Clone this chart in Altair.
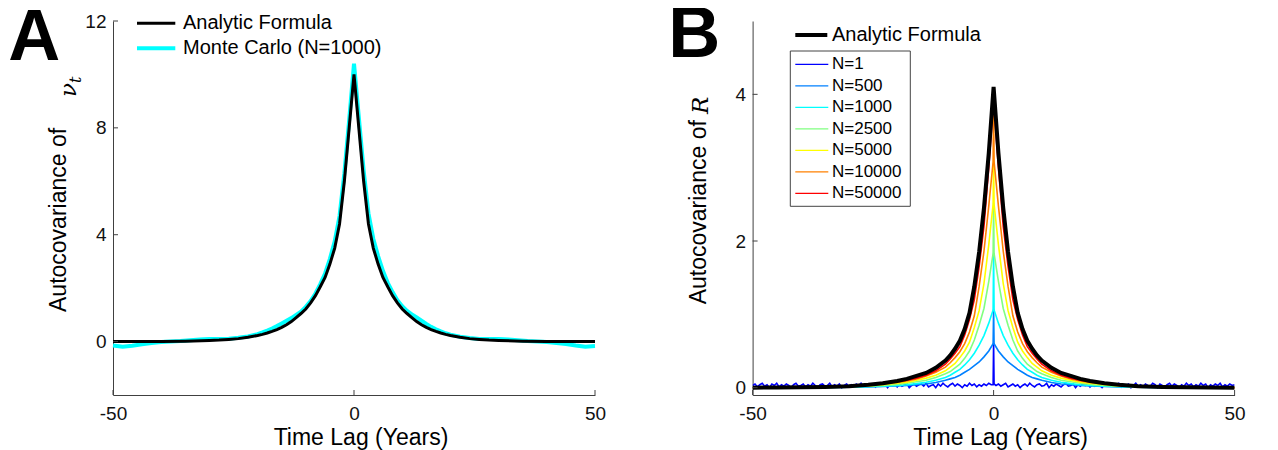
import altair as alt
import pandas as pd

# ---------------- Panel A data ----------------
lag_a_half = [0, 1, 2, 3, 4, 5, 6, 7, 8, 9, 10, 11, 12, 13, 14, 15, 16, 17, 18, 19, 20,
              22, 24, 26, 28, 30, 35, 40, 45, 50]
analytic_a_half = [10.0, 8.0, 6.0, 4.4, 3.5, 2.9, 2.4, 2.05, 1.72, 1.45, 1.22, 1.05, 0.9, 0.75,
                   0.63, 0.53, 0.45, 0.38, 0.32, 0.27, 0.23, 0.16, 0.11, 0.08, 0.055, 0.04,
                   0.015, 0.006, 0.002, 0.0]

lag_mc = [-50, -48, -46, -44, -42, -40, -38, -36, -34, -32, -30, -28, -26, -24, -22, -20,
          -19, -18, -17, -16, -15, -14, -13, -12, -11, -10, -9, -8, -7, -6, -5, -4, -3, -2, -1,
          0, 1, 2, 3, 4, 5, 6, 7, 8, 9, 10, 11, 12, 13, 14, 15, 16, 17, 18, 19, 20,
          22, 24, 26, 28, 30, 32, 34, 36, 38, 40, 42, 44, 46, 48, 50]
mc_vals = [-0.15, -0.19, -0.16, -0.10, -0.05, -0.02, 0.0, 0.02, 0.05, 0.08, 0.10, 0.10, 0.11,
           0.14, 0.19, 0.28, 0.34, 0.41, 0.49, 0.58, 0.68, 0.78, 0.88, 1.0, 1.12, 1.3, 1.52,
           1.8, 2.15, 2.55, 3.1, 3.75, 4.7, 6.3, 8.3,
           10.4, 8.4, 6.4, 4.8, 3.85, 3.2, 2.65, 2.2, 1.85, 1.55, 1.32, 1.15, 1.02, 0.9, 0.78,
           0.66, 0.55, 0.46, 0.38, 0.31, 0.26, 0.18, 0.13, 0.10, 0.10, 0.10, 0.08, 0.05, 0.02,
           0.0, -0.02, -0.05, -0.09, -0.15, -0.19, -0.17]

a_series = ["Analytic Formula", "Monte Carlo (N=1000)"]
a_colors = ["#000000", "#00ffff"]
a_widths = [3, 4]

# ---------------- Panel B data ----------------
lag_b_half = [0, 1, 2, 3, 4, 5, 6, 7, 8, 9, 10, 12, 14, 16, 18, 20, 23, 26, 30, 35, 40, 45, 50]
analytic_b_half = [4.1, 3.2, 2.45, 1.85, 1.38, 1.02, 0.8, 0.64, 0.53, 0.44, 0.37, 0.27, 0.2,
                   0.16, 0.12, 0.09, 0.06, 0.04, 0.02, 0.01, 0.005, 0.002, 0.0]

# colored curves: value at lag 0 (spike), at lag 0.1, then at lags 1..50
lag_n_half = [0, 0.1, 1, 2, 3, 4, 5, 6, 7, 8, 9, 10, 12, 14, 16, 18, 20, 23, 26, 30, 35, 40,
              45, 50]
n50000_half = [4.0, 3.82, 3.0, 2.2, 1.65, 1.2, 0.93, 0.72, 0.56, 0.47, 0.39, 0.32, 0.23, 0.17,
               0.13, 0.1, 0.08, 0.055, 0.035, 0.02, 0.01, 0.005, 0.002, 0.0]
n10000_half = [3.84, 3.08, 2.48, 1.86, 1.38, 0.98, 0.76, 0.6, 0.49, 0.41, 0.34, 0.28, 0.21,
               0.16, 0.12, 0.09, 0.07, 0.05, 0.03, 0.018, 0.01, 0.004, 0.002, 0.0]
n5000_half = [3.1, 2.5, 1.95, 1.42, 1.05, 0.82, 0.62, 0.5, 0.41, 0.33, 0.28, 0.23, 0.17, 0.13,
              0.1, 0.075, 0.06, 0.04, 0.025, 0.015, 0.008, 0.004, 0.002, 0.0]
n2500_half = [2.52, 1.83, 1.45, 1.08, 0.85, 0.65, 0.5, 0.4, 0.32, 0.27, 0.22, 0.19, 0.14, 0.1,
              0.08, 0.06, 0.045, 0.03, 0.02, 0.012, 0.006, 0.003, 0.001, 0.0]
n1000_half = [1.84, 1.06, 0.88, 0.71, 0.58, 0.47, 0.38, 0.31, 0.25, 0.21, 0.17, 0.14, 0.1,
              0.075, 0.055, 0.04, 0.03, 0.02, 0.013, 0.008, 0.004, 0.002, 0.001, 0.0]
n500_half = [1.07, 0.6, 0.5, 0.42, 0.35, 0.3, 0.25, 0.21, 0.17, 0.14, 0.12, 0.1, 0.07, 0.05,
             0.04, 0.03, 0.022, 0.015, 0.01, 0.006, 0.003, 0.002, 0.001, 0.0]

# N=1 (noisy), sampled every half year; values in hundredths
lag_n1 = [k * 0.5 for k in range(-100, 0)] + [-0.1, 0, 0.1] + [k * 0.5 for k in range(1, 101)]
n1_left_pct = [3, 5, 1, 4, 6, 2, 4, 0, 5, 3, 6, 1, 4, 2, 5, 3, 0, 4, 6, 2,
               3, 5, 1, 4, 2, 6, 3, 0, 4, 5, 2, 3, 6, 1, 4, 2, 5, 0, 3, 5,
               2, 4, 1, 5, 3, 6, 2, 4, 3, 5, 4, 1, 6, 3, 2, 5, 0, 4, 3, 6,
               1, 5, 2, 4, 6, 0, 3, 5, 2, 4, 5, 2, 6, 1, 3, 4, 0, 5, 2, 6,
               3, 1, 4, 6, 2, 5, 3, 0, 4, 2, 6, 3, 5, 1, 4, 2, 5, 3, 6, 4]
n1_center_pct = [4, 61, 5]
n1_right_pct = [3, 5, 2, 4, 6, 1, 3, 5, 2, 4, 0, 3, 5, 2, 6, 3, 1, 4, 5, 2,
                3, 6, 0, 4, 2, 5, 3, 1, 4, 6, 2, 3, 5, 0, 4, 2, 5, 3, 6, 1,
                4, 2, 5, 3, 0, 4, 6, 2, 3, 5, 2, 6, 1, 4, 3, 5, 0, 3, 6, 2,
                4, 1, 5, 3, 2, 6, 4, 0, 5, 3, 1, 4, 6, 2, 5, 3, 0, 4, 2, 6,
                3, 5, 1, 4, 2, 6, 3, 5, 0, 4, 2, 5, 3, 6, 1, 4, 2, 5, 3, 4]

n_labels = ["N=1", "N=500", "N=1000", "N=2500", "N=5000", "N=10000", "N=50000"]
n_colors = ["#0000ff", "#0080ff", "#00ffff", "#80ff80", "#ffff00", "#ff8000", "#ff0000"]

x_ticks = [-50, 0, 50]
ya_ticks = [0, 4, 8, 12]
yb_ticks = [0, 2, 4]

FONT = "Liberation Sans"
AX = "#404040"
W, H = 482, 374


def mirror(lags, vals):
    return [-l for l in reversed(lags[1:])] + list(lags), list(reversed(vals[1:])) + list(vals)


def frame(lags, vals, name):
    return pd.DataFrame({"lag": lags, "value": vals, "series": name})


def axis_x():
    return alt.Axis(values=x_ticks, ticks=False, grid=False, title=None, labelFontSize=19,
                    labelFont=FONT, labelColor="#111", labelPadding=9, domainColor=AX,
                    labelFlush=False, labelExpr="'' + datum.value")


def axis_y(vals):
    return alt.Axis(values=vals, ticks=False, grid=False, title=None, labelFontSize=19,
                    labelFont=FONT, labelColor="#111", labelPadding=7, domainColor=AX,
                    labelExpr="'' + datum.value")


def text_layer(txt, x, y, size, **kw):
    return alt.Chart(pd.DataFrame({"t": [txt]})).mark_text(
        font=kw.pop("font", FONT), fontSize=size, color=kw.pop("color", "#000"), **kw
    ).encode(text="t:N", x=alt.value(x), y=alt.value(y))


def swatch(x1, x2, y, color, width):
    return alt.Chart(pd.DataFrame({"c": [color]})).mark_rule(
        color=color, strokeWidth=width, strokeCap="butt"
    ).encode(x=alt.value(x1), x2=alt.value(x2), y=alt.value(y))


def tick_layers(ys, xdom, ydom):
    tx = alt.Chart(pd.DataFrame({"lag": x_ticks})).mark_rule(color=AX).encode(
        x=alt.X("lag:Q", scale=alt.Scale(domain=xdom, nice=False), axis=axis_x()),
        y=alt.value(H), y2=alt.value(H - 5))
    ty = alt.Chart(pd.DataFrame({"value": ys})).mark_rule(color=AX).encode(
        y=alt.Y("value:Q", scale=alt.Scale(domain=ydom, nice=False), axis=axis_y(ys)),
        x=alt.value(0), x2=alt.value(5))
    return [tx, ty]


# ---------------- Panel A ----------------
la, va = mirror(lag_a_half, analytic_a_half)
dfa = pd.concat([frame(lag_mc, mc_vals, a_series[1]), frame(la, va, a_series[0])])
xa = alt.X("lag:Q", scale=alt.Scale(domain=[-50, 50], nice=False), axis=axis_x())
ya = alt.Y("value:Q", scale=alt.Scale(domain=[-2, 12], nice=False), axis=axis_y(ya_ticks))
col_a = alt.Color("series:N", scale=alt.Scale(domain=a_series, range=a_colors), legend=None)
base_a = alt.Chart(dfa)
mc_line = base_a.transform_filter(alt.datum.series == a_series[1]).mark_line(
    strokeWidth=a_widths[1]).encode(x=xa, y=ya, color=col_a)
an_line = base_a.transform_filter(alt.datum.series == a_series[0]).mark_line(
    strokeWidth=a_widths[0]).encode(x=xa, y=ya, color=col_a)

legend_a = []
for i, (lab, c, w) in enumerate(zip(a_series, a_colors, a_widths)):
    yy = 2.3 + 25 * i
    legend_a.append(swatch(24, 62.3, yy, c, w))
    legend_a.append(text_layer(lab, 70, yy, 20, align="left", baseline="middle"))

panel_a = alt.layer(
    mc_line, an_line,
    *tick_layers(ya_ticks, [-50, 50], [-2, 12]),
    *legend_a,
    text_layer("A", -104.7, 39.3, 72, fontWeight="bold", align="left", baseline="alphabetic"),
    text_layer("Autocovariance of", -46.7, 291, 23, angle=270, align="left",
               baseline="alphabetic"),
    text_layer("ν", -37, 76, 23, angle=270, align="left", baseline="alphabetic",
               font="DejaVu Serif", fontStyle="italic"),
    text_layer("t", -32, 62, 16, angle=270, align="left", baseline="alphabetic",
               font="DejaVu Serif", fontStyle="italic"),
    text_layer("Time Lag (Years)", 248, 423.5, 23, align="center", baseline="alphabetic"),
).properties(width=W, height=H)

# ---------------- Panel B ----------------
lb, vb = mirror(lag_b_half, analytic_b_half)
n1_vals = [v / 100 for v in n1_left_pct + n1_center_pct + n1_right_pct]
frames_b = [frame(lag_n1, n1_vals, "N=1")]
for name, half in zip(n_labels[1:], [n500_half, n1000_half, n2500_half, n5000_half,
                                      n10000_half, n50000_half]):
    l2, v2 = mirror(lag_n_half, half)
    frames_b.append(frame(l2, v2, name))
dfb = pd.concat(frames_b)
dfb_an = frame(lb, vb, "Analytic Formula")

xb = alt.X("lag:Q", scale=alt.Scale(domain=[-50, 50], nice=False), axis=axis_x())
yb = alt.Y("value:Q", scale=alt.Scale(domain=[-0.1, 5], nice=False), axis=axis_y(yb_ticks))

n_lines = alt.Chart(dfb).mark_line(strokeWidth=1.6, clip=True).encode(
    x=xb, y=yb,
    color=alt.Color("series:N", scale=alt.Scale(domain=n_labels, range=n_colors), legend=None))
an_b = alt.Chart(dfb_an).mark_line(strokeWidth=4, clip=True, color="#000000").encode(
    x=xb, y=yb)

legend_b = [
    swatch(42.7, 74.7, 14, "#000000", 4),
    text_layer("Analytic Formula", 79.4, 14, 20, align="left", baseline="middle"),
    alt.Chart(pd.DataFrame({"c": ["box"]})).mark_rect(
        fill="#ffffff", stroke="#444444", strokeWidth=1
    ).encode(x=alt.value(37.7), x2=alt.value(157.7), y=alt.value(30), y2=alt.value(185.3)),
]
for i, (lab, c) in enumerate(zip(n_labels, n_colors)):
    yy = 43.3 + 21.5 * i
    legend_b.append(swatch(42.7, 75.7, yy, c, 1.3))
    legend_b.append(text_layer(lab, 79.4, yy, 17, align="left", baseline="middle"))

panel_b = alt.layer(
    n_lines, an_b,
    *tick_layers(yb_ticks, [-50, 50], [-0.1, 5]),
    *legend_b,
    text_layer("B", -84.3, 35.5, 72, fontWeight="bold", align="left", baseline="alphabetic"),
    text_layer("Autocovariance of", -46.3, 283.3, 23, angle=270, align="left",
               baseline="alphabetic"),
    text_layer("R", -45, 93, 23, angle=270, align="left", baseline="alphabetic",
               font="DejaVu Serif", fontStyle="italic"),
    text_layer("Time Lag (Years)", 248, 423.5, 23, align="center", baseline="alphabetic"),
).properties(width=W, height=H)

chart = alt.hconcat(panel_a, panel_b, spacing=157.6, bounds="flush").resolve_scale(
    color="independent"
).properties(
    padding={"left": 0, "top": -10, "right": 0, "bottom": 0}
).configure_view(stroke=None)

chart.save("out.html", embed_options={"renderer": "svg", "actions": False})
